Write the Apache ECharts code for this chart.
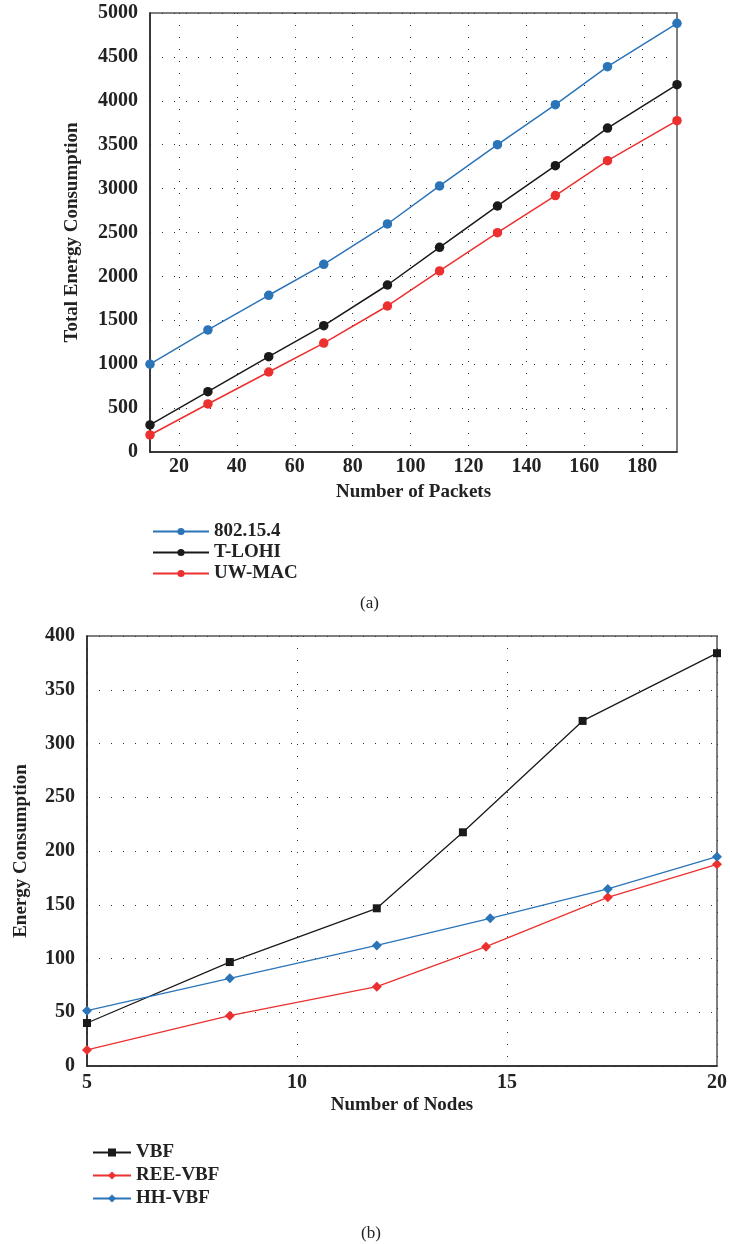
<!DOCTYPE html>
<html>
<head>
<meta charset="utf-8">
<script src="https://cdn.jsdelivr.net/npm/echarts@6/dist/echarts.min.js"></script>
<style>
  html, body { margin: 0; padding: 0; background: #fff; }
  #main { width: 730px; height: 1244px; }
</style>
</head>
<body>
<div id="main"></div>
<script>
var chartDom = document.getElementById('main');
var myChart = echarts.init(chartDom);

// (a) packets vs total energy
var packets = [10, 30, 51, 70, 92, 110, 130, 150, 168, 192];
var ieee802 = [1000, 1390, 1785, 2138, 2597, 3030, 3500, 3956, 4389, 4883];
var tlohi = [308, 687, 1086, 1439, 1902, 2331, 2802, 3261, 3690, 4184];
var uwmac = [194, 547, 911, 1241, 1663, 2062, 2498, 2920, 3318, 3774];
var packetTicks = [20, 40, 60, 80, 100, 120, 140, 160, 180];

// (b) nodes vs energy
var vbfNodes = [5, 8.4, 11.9, 13.95, 16.8, 20];
var vbf = [40, 96.7, 146.7, 217.4, 321, 384];
var reeNodes = [5, 8.4, 11.9, 14.5, 17.4, 20];
var reeVbf = [14.9, 46.8, 73.8, 111, 156.9, 187.6];
var hhNodes = [5, 8.4, 11.9, 14.6, 17.4, 20];
var hhVbf = [51.5, 81.6, 112.2, 137.4, 164.7, 194.7];

var BLUE = '#2b74b8';
var BLACK = '#1a1a1a';
var RED = '#ec3030';
var FONT = '"Liberation Serif", "Times New Roman", serif';

function pairs(xs, ys) {
  return xs.map(function (x, i) { return [x, ys[i]]; });
}
function plain(v) { return String(v); }

var gridDots = { show: true, lineStyle: { color: '#333', width: 1, type: [1, 11] } };
var labelStyle = { color: '#222', fontFamily: FONT, fontWeight: 'bold', fontSize: 20, formatter: plain };
var nameStyle = { color: '#222', fontFamily: FONT, fontWeight: 'bold', fontSize: 19 };

var option = {
  animation: false,
  textStyle: { fontFamily: FONT },
  title: [
    { text: '(a)', left: 355, top: 590, textStyle: { fontFamily: FONT, fontWeight: 'normal', fontSize: 17, color: '#222' } },
    { text: '(b)', left: 356, top: 1220, textStyle: { fontFamily: FONT, fontWeight: 'normal', fontSize: 17, color: '#222' } }
  ],
  legend: [
    {
      orient: 'vertical', left: 147, top: 517, itemWidth: 56, itemHeight: 9, itemGap: 2,
      textStyle: { fontFamily: FONT, fontWeight: 'bold', fontSize: 19, color: '#222' },
      data: ['802.15.4', 'T-LOHI', 'UW-MAC']
    },
    {
      orient: 'vertical', left: 87, top: 1138, itemWidth: 38, itemHeight: 10, itemGap: 4,
      textStyle: { fontFamily: FONT, fontWeight: 'bold', fontSize: 19, color: '#222' },
      data: ['VBF', 'REE-VBF', 'HH-VBF']
    }
  ],
  grid: [
    { left: 150, top: 13, width: 527, height: 439, show: true, borderColor: '#555', borderWidth: 1.5 },
    { left: 87, top: 636, width: 637, height: 430, show: true, borderColor: '#555', borderWidth: 1.5 }
  ],
  xAxis: [
    {
      gridIndex: 0, type: 'value', min: 10, max: 192,
      name: 'Number of Packets', nameLocation: 'middle', nameGap: 31, nameTextStyle: nameStyle,
      axisLine: { lineStyle: { color: '#222', width: 1.5 } },
      axisTick: { show: false, customValues: packetTicks },
      axisLabel: Object.assign({ margin: 5, customValues: packetTicks }, labelStyle),
      splitLine: gridDots
    },
    {
      gridIndex: 1, type: 'value', min: 5, max: 20, interval: 5,
      name: 'Number of Nodes', nameLocation: 'middle', nameGap: 30, nameTextStyle: nameStyle,
      axisLine: { lineStyle: { color: '#222', width: 1.5 } },
      axisTick: { show: false },
      axisLabel: Object.assign({ margin: 7 }, labelStyle),
      splitLine: gridDots
    }
  ],
  yAxis: [
    {
      gridIndex: 0, type: 'value', min: 0, max: 5000, interval: 500,
      name: 'Total Energy Consumption', nameLocation: 'middle', nameGap: 68, nameTextStyle: nameStyle,
      axisLine: { lineStyle: { color: '#222', width: 1.5 } },
      axisTick: { show: false },
      axisLabel: Object.assign({ margin: 12 }, labelStyle),
      splitLine: gridDots
    },
    {
      gridIndex: 1, type: 'value', min: 0, max: 400, interval: 50,
      name: 'Energy Consumption', nameLocation: 'middle', nameGap: 56, nameTextStyle: nameStyle,
      axisLine: { lineStyle: { color: '#222', width: 1.5 } },
      axisTick: { show: false },
      axisLabel: Object.assign({ margin: 12 }, labelStyle),
      splitLine: gridDots
    }
  ],
  series: [
    {
      name: '802.15.4', type: 'line', xAxisIndex: 0, yAxisIndex: 0,
      data: pairs(packets, ieee802), symbol: 'circle', symbolSize: 9.5,
      itemStyle: { color: BLUE }, lineStyle: { color: BLUE, width: 1.5 }
    },
    {
      name: 'T-LOHI', type: 'line', xAxisIndex: 0, yAxisIndex: 0,
      data: pairs(packets, tlohi), symbol: 'circle', symbolSize: 9.5,
      itemStyle: { color: BLACK }, lineStyle: { color: BLACK, width: 1.5 }
    },
    {
      name: 'UW-MAC', type: 'line', xAxisIndex: 0, yAxisIndex: 0,
      data: pairs(packets, uwmac), symbol: 'circle', symbolSize: 9.5,
      itemStyle: { color: RED }, lineStyle: { color: RED, width: 1.5 }
    },
    {
      name: 'VBF', type: 'line', xAxisIndex: 1, yAxisIndex: 1,
      data: pairs(vbfNodes, vbf), symbol: 'rect', symbolSize: 8,
      itemStyle: { color: BLACK }, lineStyle: { color: BLACK, width: 1.3 }
    },
    {
      name: 'REE-VBF', type: 'line', xAxisIndex: 1, yAxisIndex: 1,
      data: pairs(reeNodes, reeVbf), symbol: 'diamond', symbolSize: 10,
      itemStyle: { color: RED }, lineStyle: { color: RED, width: 1.3 }
    },
    {
      name: 'HH-VBF', type: 'line', xAxisIndex: 1, yAxisIndex: 1,
      data: pairs(hhNodes, hhVbf), symbol: 'diamond', symbolSize: 10,
      itemStyle: { color: BLUE }, lineStyle: { color: BLUE, width: 1.3 }
    }
  ]
};

option && myChart.setOption(option);
</script>
</body>
</html>
